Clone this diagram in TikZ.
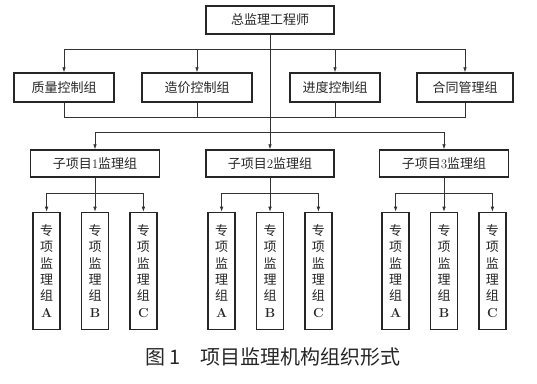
\documentclass[tikz,border=0pt]{standalone}
\usepackage{fontspec}
\newfontfamily\cjk{Noto Sans CJK SC}
\usetikzlibrary{arrows.meta,positioning}

\begin{document}
\begin{tikzpicture}[x=1pt,y=-1pt,>={Latex[length=5pt,width=3.6pt]},font=\cjk\fontsize{13}{16.3}\selectfont]
\tikzstyle{box}=[draw=black!85,line width=1.4pt,inner sep=0pt,minimum height=29pt,text=black!85]
\tikzstyle{leaf}=[draw=black!85,line width=1.4pt,inner sep=0pt,minimum width=27pt,minimum height=117pt,align=center,text=black!85]
\tikzstyle{link}=[->,line width=0.7pt,black!80]
\tikzstyle{bus}=[line width=0.7pt,black!80]
\useasboundingbox (0,0) rectangle (537,383);
\node[box,minimum width=128pt,minimum height=28pt] (chief) at (270,20) {总监理工程师};
\node[box,minimum width=100pt] (quality) at (64,87.5) {质量控制组};
\node[box,minimum width=110pt] (cost) at (197,87.5) {造价控制组};
\node[box,minimum width=90pt] (schedule) at (335,87.5) {进度控制组};
\node[box,minimum width=96pt] (contract) at (465,87.5) {合同管理组};
\node[box,minimum width=129pt,minimum height=27pt] (sub1) at (95,163.5) {子项目{\rmfamily 1}监理组};
\node[box,minimum width=128pt,minimum height=27pt] (sub2) at (270,163.5) {子项目{\rmfamily 2}监理组};
\node[box,minimum width=129pt,minimum height=27pt] (sub3) at (444,163.5) {子项目{\rmfamily 3}监理组};
\node[leaf,below=34pt of sub1] (s1b) {专\\项\\监\\理\\组\\{\rmfamily\bfseries B}};
\node[leaf,left=20pt of s1b] (s1a) {专\\项\\监\\理\\组\\{\rmfamily\bfseries A}};
\node[leaf,right=20pt of s1b] (s1c) {专\\项\\监\\理\\组\\{\rmfamily\bfseries C}};
\node[leaf,below=34pt of sub2] (s2b) {专\\项\\监\\理\\组\\{\rmfamily\bfseries B}};
\node[leaf,left=20pt of s2b] (s2a) {专\\项\\监\\理\\组\\{\rmfamily\bfseries A}};
\node[leaf,right=20pt of s2b] (s2c) {专\\项\\监\\理\\组\\{\rmfamily\bfseries C}};
\node[leaf,below=34pt of sub3] (s3b) {专\\项\\监\\理\\组\\{\rmfamily\bfseries B}};
\node[leaf,left=20pt of s3b] (s3a) {专\\项\\监\\理\\组\\{\rmfamily\bfseries A}};
\node[leaf,right=20pt of s3b] (s3c) {专\\项\\监\\理\\组\\{\rmfamily\bfseries C}};
\node[text=black!85,font=\cjk\fontsize{20}{24}\selectfont] (caption) at (273,357) {图 1　项目监理机构组织形式};
\coordinate (topbus) at (270,49);
\coordinate (lowbus) at (270,117);
\coordinate (subbus) at (270,132);
\coordinate (j1) at (95,193);
\coordinate (j2) at (270,193);
\coordinate (j3) at (444,193);
\draw[link] (topbus) -| (quality);
\draw[link] (topbus) -| (cost);
\draw[link] (topbus) -| (schedule);
\draw[link] (topbus) -| (contract);
\draw[bus] (quality) |- (lowbus);
\draw[bus] (cost) |- (lowbus);
\draw[bus] (schedule) |- (lowbus);
\draw[bus] (contract) |- (lowbus);
\draw[link] (chief) -- (sub2);
\draw[link] (subbus) -| (sub1);
\draw[link] (subbus) -| (sub3);
\draw[link] (sub1) -- (s1b);
\draw[link] (j1) -| (s1a);
\draw[link] (j1) -| (s1c);
\draw[link] (sub2) -- (s2b);
\draw[link] (j2) -| (s2a);
\draw[link] (j2) -| (s2c);
\draw[link] (sub3) -- (s3b);
\draw[link] (j3) -| (s3a);
\draw[link] (j3) -| (s3c);
\end{tikzpicture}
\end{document}
